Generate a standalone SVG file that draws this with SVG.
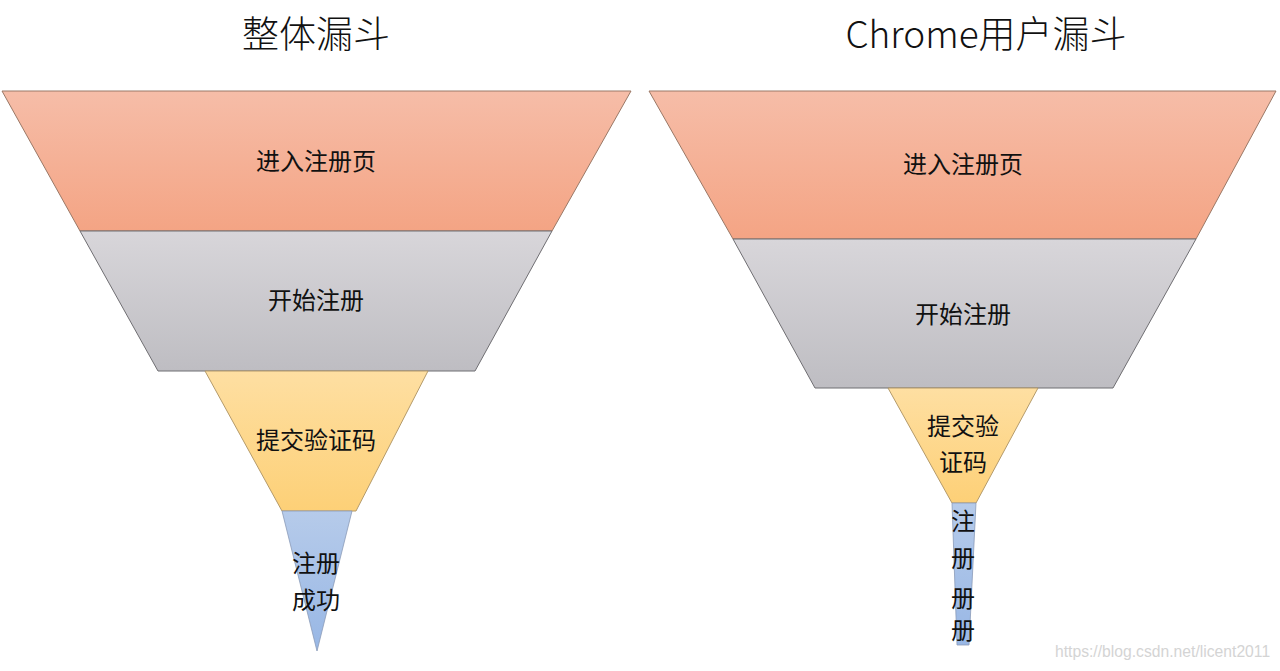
<svg xmlns="http://www.w3.org/2000/svg" width="1280" height="671" viewBox="0 0 1280 671">
<defs>
<linearGradient id="gOrange" x1="0" y1="0" x2="0" y2="1"><stop offset="0" stop-color="#f6bda8"/><stop offset="1" stop-color="#f4a484"/></linearGradient>
<linearGradient id="gGray" x1="0" y1="0" x2="0" y2="1"><stop offset="0" stop-color="#d8d6da"/><stop offset="1" stop-color="#bebdc2"/></linearGradient>
<linearGradient id="gYellow" x1="0" y1="0" x2="0" y2="1"><stop offset="0" stop-color="#fedfa2"/><stop offset="1" stop-color="#fdd077"/></linearGradient>
<linearGradient id="gBlue" x1="0" y1="0" x2="0" y2="1"><stop offset="0" stop-color="#b6cbea"/><stop offset="1" stop-color="#98b7e5"/></linearGradient>
<style>
.o{fill:url(#gOrange);stroke:#9a7866;stroke-width:1}
.g{fill:url(#gGray);stroke:#6f6e72;stroke-width:1}
.y{fill:url(#gYellow);stroke:#b49a6a;stroke-width:1}
.b{fill:url(#gBlue);stroke:#8a9ab8;stroke-width:0.8}
.t{font-family:"Noto Sans CJK SC","Microsoft YaHei",sans-serif;font-size:24px;fill:#111;text-anchor:middle}
.h{font-family:"Noto Sans CJK SC","Microsoft YaHei",sans-serif;font-size:37px;fill:#111;text-anchor:middle;font-weight:300}
.w{font-family:"Liberation Sans",Arial,sans-serif;font-size:15.7px;fill:#d4d4d4}
</style>
</defs>
<g id="titles">
<text class="h" x="316" y="48">整体漏斗</text>
<text class="h" x="986" y="48">Chrome用户漏斗</text>
</g>
<g id="left-funnel">
<g id="L1"><polygon class="o" points="2,91 631,91 552,231 80,231"/><text class="t" x="316" y="170">进入注册页</text></g>
<g id="L2"><polygon class="g" points="80,231 552,231 475,371 158,371"/><text class="t" x="316" y="309">开始注册</text></g>
<g id="L3"><polygon class="y" points="205,371 428,371 356,511 282,511"/><text class="t" x="316" y="449">提交验证码</text></g>
<g id="L4"><polygon class="b" points="282,511 352,511 317,651"/><text class="t" x="316" y="572">注册</text><text class="t" x="316" y="609">成功</text></g>
</g>
<g id="right-funnel">
<g id="R1"><polygon class="o" points="649,91 1276,91 1196,239 733,239"/><text class="t" x="963" y="173">进入注册页</text></g>
<g id="R2"><polygon class="g" points="733,239 1196,239 1113,388 815,388"/><text class="t" x="963" y="323">开始注册</text></g>
<g id="R3"><polygon class="y" points="888,388 1038,388 976,503 952,503"/><text class="t" x="963" y="435">提交验</text><text class="t" x="963" y="471">证码</text></g>
<g id="R4"><polygon class="b" points="952,503 976,503 969,645 957,645"/><text class="t" x="963" y="530">注</text><text class="t" x="963" y="567">册</text><text class="t" x="963" y="607">册</text><text class="t" x="963" y="639">册</text></g>
</g>
<g id="connectors"></g>
<text class="w" x="1055" y="657">https://blog.csdn.net/licent2011</text>
</svg>
